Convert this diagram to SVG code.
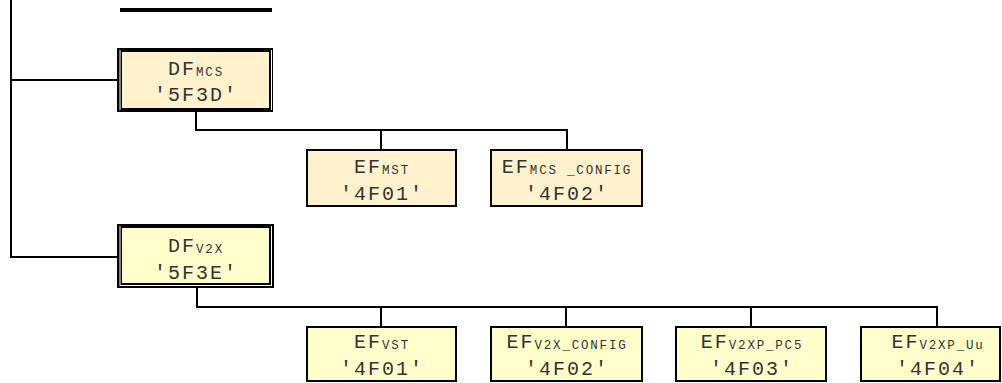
<svg xmlns="http://www.w3.org/2000/svg" width="1002" height="383" viewBox="0 0 1002 383">
<style>
.ln{stroke:#000;stroke-width:2;fill:none}
.ef{stroke:#000;stroke-width:2}
.c1{fill:#FFF2CC}
.c2{fill:#FFFFCC}
.frame{fill:#000}
.wl{stroke:#fff;stroke-width:1;fill:none}
text{font-family:"Liberation Mono","Courier New",monospace;fill:#333;text-anchor:middle}
.m{font-size:20px;letter-spacing:2px}
.s{font-size:12.5px;letter-spacing:1.8px}
</style>
<rect width="1002" height="383" fill="#fff"/>
<g id="connectors">
<line x1="120" y1="10" x2="272" y2="10" stroke="#000" stroke-width="4"/>
<polyline class="ln" points="11,0 11,257 117,257"/>
<line class="ln" x1="11" y1="80" x2="117" y2="80"/>
<polyline class="ln" points="196,112 196,130 567,130 567,150"/>
<line class="ln" x1="381" y1="130" x2="381" y2="149"/>
<polyline class="ln" points="197,288 197,307 937,307 937,327"/>
<line class="ln" x1="381" y1="307" x2="381" y2="327"/>
<line class="ln" x1="566" y1="307" x2="566" y2="327"/>
<line class="ln" x1="751" y1="307" x2="751" y2="327"/>
</g>
<g id="df-mcs">
<rect class="frame" x="117" y="48" width="156" height="64"/>
<rect class="c1" x="122" y="52" width="147" height="56"/>
<line class="wl" x1="120" y1="50" x2="120" y2="110"/>
<line class="wl" x1="271.5" y1="50" x2="271.5" y2="110"/>
<text x="196" y="75"><tspan class="m">DF</tspan><tspan class="s" dy="1">MCS</tspan></text>
<text class="m" x="196" y="101">'5F3D'</text>
</g>
<g id="df-v2x">
<rect class="frame" x="117" y="224" width="157" height="64"/>
<rect class="c2" x="122" y="228" width="147" height="55"/>
<line class="wl" x1="120" y1="226" x2="120" y2="286"/>
<line class="wl" x1="271.5" y1="226" x2="271.5" y2="286"/>
<line class="wl" x1="120" y1="285.5" x2="271.5" y2="285.5"/>
<text x="196" y="252"><tspan class="m">DF</tspan><tspan class="s" dy="1">V2X</tspan></text>
<text class="m" x="196" y="279">'5F3E'</text>
</g>
<g id="ef-mst">
<rect class="ef c1" x="307" y="150" width="149" height="56"/>
<text x="382" y="173"><tspan class="m">EF</tspan><tspan class="s" dy="1">MST</tspan></text>
<text class="m" x="382" y="200">'4F01'</text>
</g>
<g id="ef-mcs-config">
<rect class="ef c1" x="491" y="150" width="151" height="56"/>
<text x="567" y="173"><tspan class="m">EF</tspan><tspan class="s" dy="1">MCS _CONFIG</tspan></text>
<text class="m" x="567" y="200">'4F02'</text>
</g>
<g id="ef-vst">
<rect class="ef c2" x="307" y="327" width="149" height="54"/>
<text x="382" y="348"><tspan class="m">EF</tspan><tspan class="s" dy="1">VST</tspan></text>
<text class="m" x="382" y="375">'4F01'</text>
</g>
<g id="ef-v2x-config">
<rect class="ef c2" x="491" y="327" width="151" height="54"/>
<text x="567" y="348"><tspan class="m">EF</tspan><tspan class="s" dy="1">V2X_CONFIG</tspan></text>
<text class="m" x="567" y="375">'4F02'</text>
</g>
<g id="ef-v2xp-pc5">
<rect class="ef c2" x="676" y="327" width="150" height="54"/>
<text x="752" y="348"><tspan class="m">EF</tspan><tspan class="s" dy="1">V2XP_PC5</tspan></text>
<text class="m" x="752" y="375">'4F03'</text>
</g>
<g id="ef-v2xp-uu">
<rect class="ef c2" x="861" y="327" width="139" height="54"/>
<text x="938" y="348"><tspan class="m">EF</tspan><tspan class="s" dy="1">V2XP_Uu</tspan></text>
<text class="m" x="938" y="375">'4F04'</text>
</g>
</svg>
